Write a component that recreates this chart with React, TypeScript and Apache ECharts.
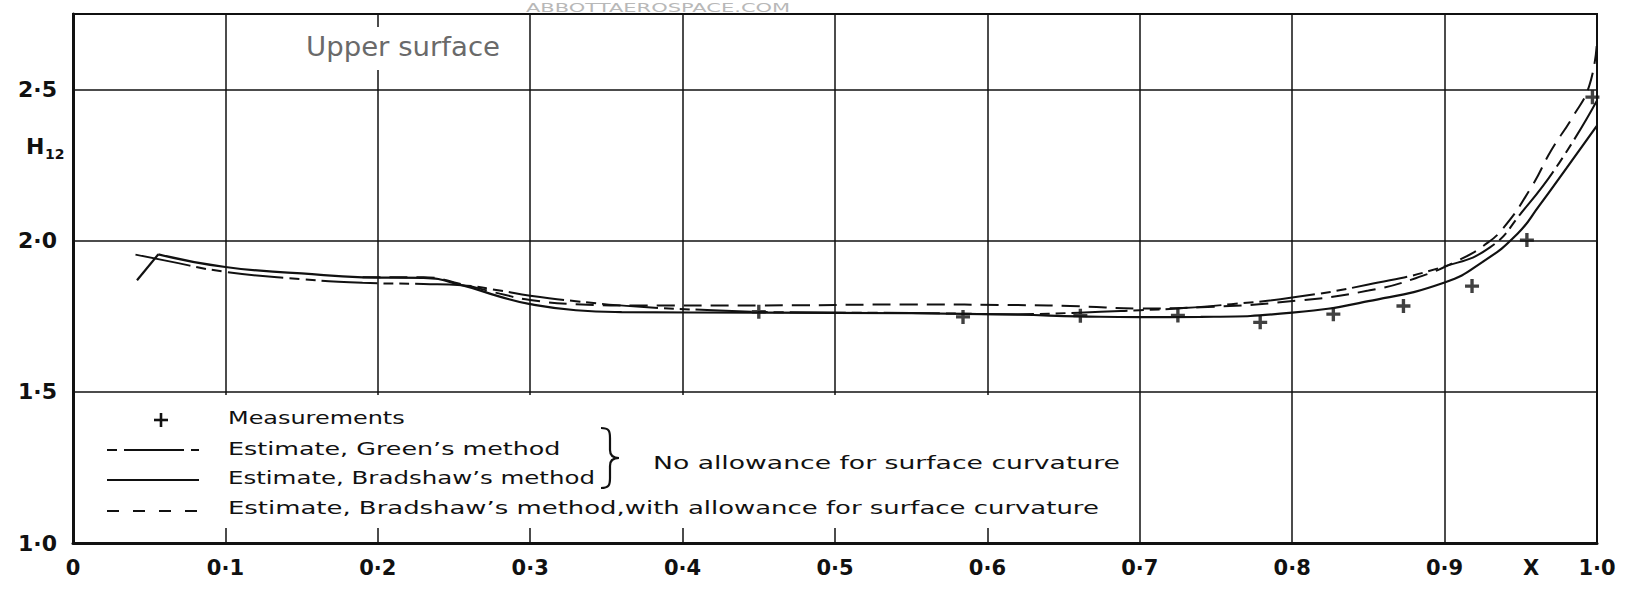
import React, { useEffect, useRef } from "react";
import * as echarts from "echarts";

// Shape factor H12 along the upper surface, chordwise position X
// Bradshaw's estimate starts with a short straight start-up transient
const bradshawStart: [number, number][] = [
  [0.042, 1.869], [0.056, 1.955],
];

const bradshaw: [number, number][] = [
  [0.056, 1.955], [0.1, 1.913], [0.15, 1.892], [0.19, 1.879],
  [0.23, 1.877], [0.255, 1.853], [0.28, 1.815], [0.3, 1.79], [0.33, 1.77],
  [0.36, 1.764], [0.45, 1.762], [0.55, 1.76], [0.62, 1.755], [0.66, 1.75],
  [0.7, 1.747], [0.74, 1.748], [0.8, 1.762], [0.85, 1.8], [0.9, 1.862],
  [0.925, 1.93], [0.948, 2.024], [0.962, 2.115], [0.98, 2.24], [1.0, 2.381],
];

const green: [number, number][] = [
  [0.041, 1.954], [0.06, 1.935], [0.1, 1.897], [0.15, 1.873], [0.19, 1.861],
  [0.23, 1.857], [0.255, 1.853], [0.28, 1.835], [0.3, 1.818], [0.33, 1.8],
  [0.37, 1.782], [0.42, 1.77], [0.47, 1.763], [0.55, 1.761], [0.62, 1.757],
  [0.66, 1.762], [0.7, 1.77], [0.725, 1.776], [0.76, 1.79], [0.8, 1.812],
  [0.85, 1.855], [0.9, 1.915], [0.93, 1.979], [0.95, 2.09], [0.975, 2.256],
  [1.0, 2.464],
];

const curvature: [number, number][] = [
  [0.19, 1.879], [0.23, 1.879], [0.255, 1.856], [0.28, 1.825], [0.3, 1.804],
  [0.33, 1.79], [0.37, 1.786], [0.45, 1.786], [0.55, 1.789], [0.62, 1.787],
  [0.66, 1.783], [0.7, 1.776], [0.74, 1.78], [0.806, 1.803], [0.85, 1.835],
  [0.881, 1.876], [0.909, 1.935], [0.926, 1.985], [0.939, 2.045], [0.957, 2.178],
  [0.97, 2.299], [0.984, 2.409], [0.995, 2.514], [1.0, 2.66],
];

const measurements: [number, number][] = [
  [0.45, 1.765], [0.584, 1.748], [0.661, 1.752], [0.725, 1.753], [0.779, 1.73],
  [0.827, 1.757], [0.873, 1.784], [0.918, 1.85], [0.954, 2.002], [0.997, 2.475],
];

const legendLabels = [
  "Measurements",
  "Estimate, Green\u2019s method",
  "Estimate, Bradshaw\u2019s method",
  "Estimate, Bradshaw\u2019s method,with allowance for surface curvature",
];
const braceNote = "No allowance for surface curvature";
const panelTitle = "Upper surface";

const FONT = "'DejaVu Sans', sans-serif";
const INK = "#111";
const GREEN_DASH = [56, 6, 10, 6, 10, 6];
const CURV_DASH = [18, 9];
const PLUS = "path://M3.8,0H6.2V3.8H10V6.2H6.2V10H3.8V6.2H0V3.8H3.8Z";

const BRACE_D =
  "M0,0 C8,0 9,3 9,10 L9,22 C9,27 11,30 18,30 C11,30 9,33 9,38 L9,50 C9,57 8,60 0,60";
let braceRegistered = false;
function registerBrace() {
  if (braceRegistered) return;
  echarts.graphic.registerShape("brace", echarts.graphic.extendPath(BRACE_D, {}));
  braceRegistered = true;
}

const dot = (v: number) => v.toFixed(1).replace(".", "\u00b7");

function label(
  text: string,
  x: number,
  y: number,
  font: string,
  opts: { scaleX?: number; fill?: string; align?: string } = {}
) {
  const align = opts.align || "left";
  return {
    type: "text",
    x,
    y,
    scaleX: opts.scaleX || 1,
    z: 20,
    style: {
      text,
      x: 0,
      y: 0,
      font,
      fill: opts.fill || INK,
      align,
      verticalAlign: "middle",
      textAlign: align,
      textVerticalAlign: "middle",
    },
  };
}

export default function App() {
  const ref = useRef<HTMLDivElement>(null);

  useEffect(() => {
    if (!ref.current) return;
    registerBrace();
    const chart = echarts.init(ref.current, null, { renderer: "svg" });

    const keyFont = `18px ${FONT}`;
    const lineCommon = {
      type: "line",
      showSymbol: false,
      smooth: 0.5,
      z: 5,
    };

    const option: any = {
      animation: false,
      backgroundColor: "#fff",
      grid: {
        left: 73,
        right: 29,
        top: 14,
        bottom: 46,
        show: true,
        borderColor: INK,
        borderWidth: 2,
      },
      xAxis: {
        type: "value",
        min: 0,
        max: 1,
        interval: 0.1,
        axisLine: { show: true, lineStyle: { color: INK, width: 3 } },
        axisTick: { show: false },
        splitLine: { show: true, lineStyle: { color: INK, width: 1.5 } },
        axisLabel: {
          margin: 14,
          color: INK,
          fontFamily: FONT,
          fontSize: 21,
          fontWeight: "bold",
          formatter: (v: number) => (v === 0 ? "0" : dot(v)),
        },
      },
      yAxis: {
        type: "value",
        min: 1,
        max: 2.75,
        interval: 0.5,
        axisLine: { show: true, lineStyle: { color: INK, width: 3 } },
        axisTick: { show: false },
        splitLine: { show: true, lineStyle: { color: INK, width: 1.5 } },
        axisLabel: {
          margin: 16,
          color: INK,
          fontFamily: FONT,
          fontSize: 22,
          fontWeight: "bold",
          showMaxLabel: false,
          formatter: (v: number) => dot(v),
        },
      },
      series: [
        {
          type: "line",
          name: legendLabels[2],
          data: bradshawStart,
          showSymbol: false,
          smooth: false,
          z: 5,
          lineStyle: { color: INK, width: 2.2 },
        },
        {
          ...lineCommon,
          name: legendLabels[2],
          data: bradshaw,
          lineStyle: { color: INK, width: 2.2 },
        },
        {
          ...lineCommon,
          name: legendLabels[1],
          data: green,
          lineStyle: { color: INK, width: 2, type: GREEN_DASH },
        },
        {
          ...lineCommon,
          name: legendLabels[3],
          data: curvature,
          lineStyle: { color: INK, width: 2, type: CURV_DASH },
        },
        {
          name: legendLabels[0],
          type: "scatter",
          data: measurements,
          symbol: PLUS,
          symbolSize: 14,
          itemStyle: { color: INK },
          z: 6,
        },
      ],
      graphic: [
        // faint publisher mark along the top edge
        label("ABBOTTAEROSPACE.COM", 526, 8, `12px ${FONT}`, {
          scaleX: 1.75,
          fill: "#b8b8b8",
        }),
        // panel title with a white backing over the grid
        {
          type: "rect",
          z: 15,
          shape: { x: 300, y: 27, width: 205, height: 43 },
          style: { fill: "#fff" },
        },
        label(panelTitle, 306, 47, `26px ${FONT}`, { scaleX: 1.06, fill: "#6a6a6a" }),
        // axis titles
        label("H", 26, 146, `bold 22px ${FONT}`),
        label("12", 45, 154, `bold 14px ${FONT}`),
        label("X", 1531, 568, `bold 21px ${FONT}`, { align: "center" }),
        // key panel
        {
          type: "rect",
          z: 15,
          shape: { x: 75, y: 395, width: 1060, height: 133 },
          style: { fill: "#fff" },
        },
        {
          type: "line",
          z: 20,
          shape: { x1: 154, y1: 420, x2: 168, y2: 420 },
          style: { stroke: INK, lineWidth: 2.6 },
        },
        {
          type: "line",
          z: 20,
          shape: { x1: 161, y1: 413, x2: 161, y2: 427 },
          style: { stroke: INK, lineWidth: 2.6 },
        },
        {
          type: "line",
          z: 20,
          shape: { x1: 107, y1: 450, x2: 199, y2: 450 },
          style: { stroke: INK, lineWidth: 2, lineDash: [10, 7, 60, 7, 8, 30] },
        },
        {
          type: "line",
          z: 20,
          shape: { x1: 107, y1: 480, x2: 199, y2: 480 },
          style: { stroke: INK, lineWidth: 2.2 },
        },
        {
          type: "line",
          z: 20,
          shape: { x1: 107, y1: 511, x2: 199, y2: 511 },
          style: { stroke: INK, lineWidth: 2, lineDash: [12, 14] },
        },
        label(legendLabels[0], 228, 418, keyFont, { scaleX: 1.33 }),
        label(legendLabels[1], 228, 449, keyFont, { scaleX: 1.41 }),
        label(legendLabels[2], 228, 478, keyFont, { scaleX: 1.36 }),
        label(legendLabels[3], 228, 508, keyFont, { scaleX: 1.44 }),
        {
          type: "brace",
          x: 601,
          y: 428,
          z: 20,
          style: { stroke: INK, fill: "none", lineWidth: 2.2 },
        },
        label(braceNote, 653, 463, keyFont, { scaleX: 1.48 }),
      ],
    };

    chart.setOption(option);
    return () => chart.dispose();
  }, []);

  return (
    <div
      ref={ref}
      style={{ position: "absolute", left: 0, top: 0, width: 1626, height: 589 }}
    />
  );
}
